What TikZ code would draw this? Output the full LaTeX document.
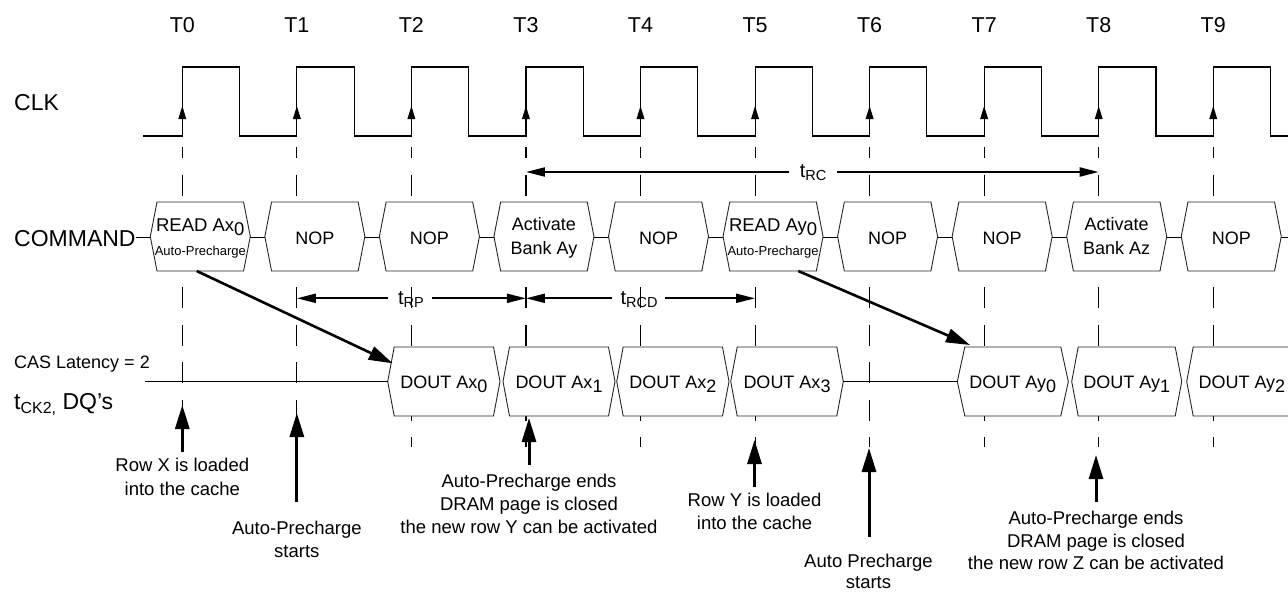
\documentclass[tikz,border=0pt]{standalone}
\usepackage{fontspec}
\setmainfont{Liberation Sans}
\usetikzlibrary{arrows.meta}
\newcommand\fz[1]{\fontsize{#1}{#1}\selectfont}
\newcommand\dsub[1]{\raisebox{-4pt}{#1}}
\newcommand\tsub[1]{\raisebox{-3.5pt}{\fz{14.5}#1}}
\newcommand\hexbox[6]{%
  \draw[hexb] ({#2},{#4}) -- ({#2+#6},{#4-#5}) -- ({#3-#6},{#4-#5}) -- ({#3},{#4})
    -- ({#3-#6},{#4+#5}) -- ({#2+#6},{#4+#5}) -- cycle;
  \coordinate (#1) at ({(#2+#3)/2},{#4});
  \coordinate (#1W) at ({#2},{#4});
  \coordinate (#1E) at ({#3},{#4});}
\begin{document}
\begin{tikzpicture}[x=1pt,y=-1pt,
  txt/.style={inner sep=0pt, anchor=base},
  clkline/.style={line width=1.1pt},
  gridline/.style={line width=1.1pt, dash pattern=on 21pt off 16.5pt, dash phase=10pt},
  hexb/.style={draw=black!85, line width=0.9pt, fill=white},
  wire/.style={line width=1pt},
  tarrow/.style={line width=2pt, -{Triangle[length=19pt,width=9pt]}},
  bigarrow/.style={line width=3pt, -{Triangle[length=24pt,width=14pt]}},
  diagarrow/.style={line width=2.6pt, -{Triangle[length=24pt,width=14pt]}},
]
\useasboundingbox (0,0) rectangle (1288,592);
\clip (0,0) rectangle (1288,592);

% dashed grid lines at clock edges
\foreach \i in {0,...,9}{
  \pgfmathsetmacro\ex{182.3+114.55*\i}
  \coordinate (g\i t) at (\ex,147);
  \coordinate (g\i b) at (\ex,447);
  \draw[gridline] (g\i t) -- (g\i b);
}

% clock
\draw[clkline] (143,136) \foreach \i in {0,...,9}{ -- ({182.3+114.55*\i},136) -- ++(0,-69) -- ++(57.3,0) -- ++(0,69)} -- (1288,136);
\foreach \i in {0,...,9}{
  \pgfmathsetmacro\ex{182.3+114.55*\i}
  \fill (\ex,106) -- ++(-4,13) -- ++(8,0) -- cycle;
  \node[txt, font=\fz{21.5}] (T\i) at (\ex,32.3) {T\i};
}

% left labels
\node[txt, anchor=base west, font=\fz{23}] (lblclk) at (14,110) {CLK};
\node[txt, anchor=base west, font=\fz{23}] (lblcmd) at (14,246.5) {COMMAND};
\node[txt, anchor=base west, font=\fz{18}] (lblcas) at (14,368.3) {CAS Latency = 2};
\node[txt, anchor=base west, font=\fz{23}] (lbldq) at (14,409) {t\raisebox{-4.5pt}{\fz{16}CK2,} DQ’s};

% wires
\coordinate (cmdR) at (1288,237);
\draw[wire] (lblcmd.east |- cmdR) -- (cmdR);

% tRC
\coordinate (rcL) at (525.95,172);
\coordinate (rcR) at (1098.7,172);
\coordinate (rcA) at (789,172);
\coordinate (rcB) at (837,172);
\draw[tarrow] (rcA) -- (rcL);
\draw[tarrow] (rcB) -- (rcR);
\node[txt, font=\fz{20}] (tRC) at (813,177.3) {t\tsub{RC}};

% tRP / tRCD
\coordinate (rpL) at (296.85,298.3);
\coordinate (rpR) at (525.95,298.3);
\coordinate (rpA) at (388,298.3);
\coordinate (rpB) at (432,298.3);
\draw[tarrow] (rpA) -- (rpL);
\draw[tarrow] (rpB) -- (rpR);
\node[txt, font=\fz{20}] (tRP) at (411,304) {t\tsub{RP}};
\coordinate (rcdL) at (525.95,298.3);
\coordinate (rcdR) at (755.05,298.3);
\coordinate (rcdA) at (611.7,298.3);
\coordinate (rcdB) at (665,298.3);
\draw[tarrow] (rcdA) -- (rcdL);
\draw[tarrow] (rcdB) -- (rcdR);
\node[txt, font=\fz{20}] (tRCD) at (639,304) {t\tsub{RCD}};

% command boxes
\foreach \i in {0,...,9}{
  \pgfmathsetmacro\ex{182.3+114.55*\i}
  \hexbox{c\i}{\ex-32}{\ex+68}{236.5}{34.5}{6.7}
}
\node[txt, font=\fz{18.5}] (c0a) at (200.3,231.7) {READ Ax\dsub{0}};
\node[txt, font=\fz{13}] (c0b) at (200.3,255.3) {Auto-Precharge};
\node[txt, font=\fz{18}] (c1a) at (314.85,244) {NOP};
\node[txt, font=\fz{18}] (c2a) at (429.4,244) {NOP};
\node[txt, font=\fz{18}] (c3a) at (543.95,230) {Activate};
\node[txt, font=\fz{18}] (c3b) at (543.95,254) {Bank Ay};
\node[txt, font=\fz{18}] (c4a) at (658.5,244) {NOP};
\node[txt, font=\fz{18.5}] (c5a) at (773.05,231.7) {READ Ay\dsub{0}};
\node[txt, font=\fz{13}] (c5b) at (773.05,255.3) {Auto-Precharge};
\node[txt, font=\fz{18}] (c6a) at (887.6,244) {NOP};
\node[txt, font=\fz{18}] (c7a) at (1002.15,244) {NOP};
\node[txt, font=\fz{18}] (c8a) at (1116.7,230) {Activate};
\node[txt, font=\fz{18}] (c8b) at (1116.7,254) {Bank Az};
\node[txt, font=\fz{18}] (c9a) at (1231.25,244) {NOP};

% DQ line and boxes
\coordinate (dqL) at (145,381.5);
\hexbox{x0}{387.7}{500}{381.5}{34.5}{6.5}
\hexbox{x1}{503}{615}{381.5}{34.5}{6.5}
\hexbox{x2}{616.7}{729}{381.5}{34.5}{6.5}
\hexbox{x3}{730.7}{843.3}{381.5}{34.5}{6.5}
\hexbox{y0}{957.3}{1068.3}{381.5}{34.5}{7.5}
\hexbox{y1}{1071.7}{1181.7}{381.5}{34.5}{6.5}
\hexbox{y2}{1186.7}{1297}{381.5}{34.5}{6.5}
\draw[wire] (dqL) -- (x0W);
\draw[wire] (x3E) -- (y0W);
\node[txt, font=\fz{18}] (x0t) at (443.85,388.3) {DOUT Ax\dsub{0}};
\node[txt, font=\fz{18}] (x1t) at (559,388.3) {DOUT Ax\dsub{1}};
\node[txt, font=\fz{18}] (x2t) at (672.85,388.3) {DOUT Ax\dsub{2}};
\node[txt, font=\fz{18}] (x3t) at (787,388.3) {DOUT Ax\dsub{3}};
\node[txt, font=\fz{18}] (y0t) at (1012.8,388.3) {DOUT Ay\dsub{0}};
\node[txt, font=\fz{18}] (y1t) at (1126.7,388.3) {DOUT Ay\dsub{1}};
\node[txt, font=\fz{18}] (y2t) at (1241.85,388.3) {DOUT Ay\dsub{2}};

% diagonal arrows
\coordinate (d1s) at (196.7,271);
\coordinate (d1e) at (392.7,363.3);
\draw[diagarrow] (d1s) -- (d1e);
\coordinate (d2s) at (798.3,271);
\coordinate (d2e) at (970,345);
\draw[diagarrow] (d2s) -- (d2e);

% annotation arrows
\coordinate (a0s) at (182.3,452);   \coordinate (a0e) at (182.3,405);
\coordinate (a1s) at (296.85,502);  \coordinate (a1e) at (296.85,413);
\coordinate (a3s) at (529,465);     \coordinate (a3e) at (529,418);
\coordinate (a5s) at (754.5,487);   \coordinate (a5e) at (754.5,440);
\coordinate (a6s) at (869,537);     \coordinate (a6e) at (869,448);
\coordinate (a8s) at (1096,502);    \coordinate (a8e) at (1096,455);
\foreach \a in {0,1,3,5,6,8}{\draw[bigarrow] (a\a s) -- (a\a e);}

% annotation texts
\begin{scope}[every node/.style={txt, font=\fz{18.5}}]
\node (rx1) at (182.3,471.7) {Row X is loaded};
\node (rx2) at (182.3,495) {into the cache};
\node (ap1) at (296.85,534.3) {Auto-Precharge};
\node (ap2) at (296.85,557.3) {starts};
\node (ae1) at (529,487.5) {Auto-Precharge ends};
\node (ae2) at (529,510.5) {DRAM page is closed};
\node (ae3) at (529,533.5) {the new row Y can be activated};
\node (ry1) at (754.5,506) {Row Y is loaded};
\node (ry2) at (754.5,529.3) {into the cache};
\node (as1) at (868.5,567.5) {Auto Precharge};
\node (as2) at (868.5,588.5) {starts};
\node (az1) at (1096,524.5) {Auto-Precharge ends};
\node (az2) at (1096,547) {DRAM page is closed};
\node (az3) at (1096,569.5) {the new row Z can be activated};
\end{scope}
\end{tikzpicture}
\end{document}
